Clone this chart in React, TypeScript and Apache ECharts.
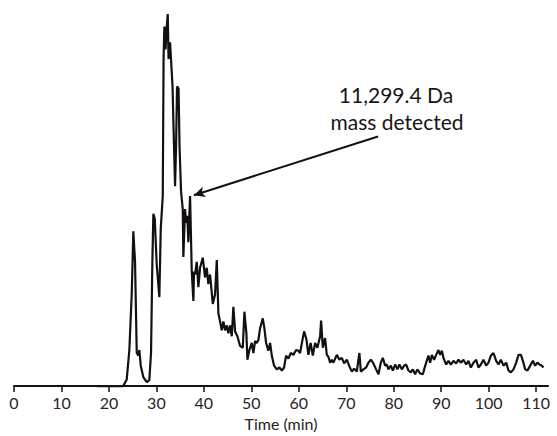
import React, { useEffect, useRef } from "react";
import * as echarts from "echarts";

// Retention time (min)
const timeMin: number[] = [
  17.5, 23.0, 23.75, 24.3, 24.8, 25.14, 25.5, 25.86, 26.2, 26.41, 26.7, 27.25, 27.97, 28.51, 28.87, 29.15,
  29.36, 29.65, 30.07, 30.62, 30.92, 31.34, 31.51, 31.68, 31.93, 32.14, 32.39, 32.56, 32.88, 33.19, 33.4,
  33.61, 33.93, 34.14, 34.35, 34.67, 34.88, 35.19, 35.55, 35.68, 36.04, 36.25, 36.52, 36.73, 37.09, 37.45,
  37.79, 37.93, 38.15, 38.5, 38.84, 39.2, 39.77, 40.25, 40.61, 40.95, 41.31, 41.88, 42.36, 42.72, 43.06,
  43.41, 43.77, 44.11, 44.47, 44.83, 45.16, 45.52, 45.88, 46.22, 46.58, 47.06, 47.63, 48.2, 48.54, 48.96,
  49.17, 49.59, 50.09, 50.43, 50.79, 51.15, 51.49, 51.84, 52.41, 52.75, 53.11, 53.59, 53.95, 54.31, 54.79,
  55.36, 55.91, 56.42, 56.9, 57.32, 57.81, 58.31, 58.86, 59.43, 59.92, 60.27, 60.84, 61.12, 61.6, 62.02,
  62.49, 62.95, 63.43, 63.92, 64.49, 64.7, 65.06, 65.54, 65.9, 66.24, 66.6, 66.95, 67.29, 68.01, 68.56,
  69.06, 69.55, 70.12, 70.66, 71.17, 71.65, 72.22, 72.56, 72.77, 73.07, 73.61, 74.18, 74.67, 75.17, 75.72,
  76.29, 76.78, 77.28, 77.7, 78.19, 78.55, 78.88, 79.39, 79.81, 80.3, 80.78, 81.2, 81.71, 82.19, 82.61,
  83.1, 83.6, 84.02, 84.51, 84.99, 85.56, 86.13, 86.41, 86.83, 87.31, 87.67, 88.03, 88.51, 88.94, 89.42,
  89.78, 90.14, 90.47, 91.04, 91.53, 92.03, 92.58, 93.15, 93.64, 94.14, 94.69, 95.26, 95.74, 96.25, 96.8,
  97.37, 97.85, 98.36, 98.9, 99.47, 99.96, 100.46, 101.01, 101.58, 102.07, 102.57, 103.12, 103.69, 104.17,
  104.68, 105.23, 105.8, 106.28, 106.79, 107.21, 107.69, 108.18, 108.75, 109.32, 109.8, 110.28, 110.71,
  111.21, 111.55,
];

// Relative intensity (%)
const intensity: number[] = [
  0, 0, 1.8, 9.7, 24.7, 41.6, 33.4, 8.9, 8.2, 9.7, 5.5, 2.4, 1.1, 1.6, 8.9, 33.4,
  46.3, 45.0, 32.6, 23.9, 42.4, 51.1, 87.9, 96.6, 90.5, 95.8, 100, 87.9, 92.4, 85.3, 80.5,
  69.5, 53.7, 64.2, 80.5, 80.0, 64.2, 52.4, 47.6, 34.7, 47.6, 43.9, 45.8, 38.7, 51.1, 30.8,
  22.9, 30.8, 30.0, 33.4, 26.6, 31.8, 34.5, 29.2, 31.8, 27.4, 30.0, 22.1, 24.7, 33.9, 19.5,
  17.4, 15.0, 17.4, 15.0, 16.3, 14.2, 16.3, 13.4, 21.3, 14.7, 13.4, 10.8, 10.3, 20.0, 14.2,
  7.1, 9.7, 11.6, 8.9, 12.1, 11.6, 12.4, 15.5, 18.2, 15.5, 11.6, 9.5, 11.6, 8.2, 5.5,
  4.5, 5.0, 4.2, 5.0, 8.2, 7.4, 8.9, 8.4, 9.7, 9.5, 8.9, 12.9, 14.7, 12.6, 8.4,
  11.6, 8.2, 11.6, 10.3, 13.4, 17.6, 10.3, 12.9, 8.4, 7.9, 6.3, 7.1, 6.3, 8.4, 7.1,
  7.6, 6.1, 7.1, 5.3, 3.9, 4.7, 3.9, 7.1, 8.9, 3.9, 4.5, 5.0, 6.3, 7.1, 6.1,
  4.5, 3.2, 6.3, 7.6, 5.5, 5.8, 4.5, 5.5, 4.2, 5.8, 4.5, 5.8, 4.5, 5.5, 5.8,
  4.2, 3.7, 4.5, 3.2, 4.5, 3.4, 3.2, 4.5, 6.3, 8.2, 6.3, 8.4, 7.1, 8.4, 9.7,
  8.4, 9.5, 7.6, 5.8, 6.8, 5.8, 6.8, 6.1, 7.1, 6.3, 7.1, 5.8, 6.8, 5.0, 6.3,
  7.1, 5.0, 5.8, 7.1, 5.5, 6.3, 8.2, 8.9, 6.8, 5.8, 7.1, 5.5, 6.3, 4.2,
  3.7, 4.5, 6.3, 8.4, 8.4, 6.8, 4.5, 4.2, 5.5, 6.8, 5.5, 6.3, 5.8,
  5.5, 5.0,
];

const tickValues: number[] = [0, 10, 20, 30, 40, 50, 60, 70, 80, 90, 100, 110];

const annotationLines: string[] = ["11,299.4 Da", "mass detected"];
// arrow: from the note [time, intensity] to the annotated peak [time, intensity]
const arrowFrom: number[] = [76.7, 67.1];
const arrowTo: number[] = [37.9, 51.3];

export default function App() {
  const ref = useRef<HTMLDivElement>(null);

  useEffect(() => {
    if (!ref.current) return;
    const chart = echarts.init(ref.current, null, { renderer: "svg" });
    const data = timeMin.map((t, i) => [t, intensity[i]]);
    const font = "Lato, 'Open Sans', sans-serif";
    chart.setOption({
      animation: false,
      backgroundColor: "#ffffff",
      grid: { left: 14, right: 9, top: 14, bottom: 39, containLabel: false },
      xAxis: {
        type: "value",
        min: 0,
        max: 112.5,
        name: "Time (min)",
        nameLocation: "middle",
        nameGap: 24,
        nameTextStyle: { fontFamily: font, fontSize: 16, color: "#2a2222" },
        axisLine: { show: true, lineStyle: { color: "#111", width: 2 } },
        axisTick: {
          show: true,
          customValues: tickValues,
          length: 6,
          lineStyle: { color: "#111", width: 1.5 },
        },
        axisLabel: {
          customValues: tickValues,
          fontFamily: font,
          fontSize: 16,
          color: "#2a2222",
          margin: 5,
        },
        splitLine: { show: false },
      },
      yAxis: {
        type: "value",
        min: -0.8,
        max: 100,
        show: false,
        splitLine: { show: false },
      },
      series: [
        {
          type: "line",
          data,
          showSymbol: false,
          symbol: "none",
          lineStyle: { color: "#141010", width: 2.2 },
          z: 3,
          markLine: {
            silent: true,
            symbol: ["none", "arrow"],
            symbolSize: [8, 11],
            lineStyle: { color: "#141010", width: 2, type: "solid" },
            label: { show: false },
            data: [[{ coord: arrowFrom }, { coord: arrowTo }]],
          },
        },
      ],
      graphic: [
        {
          type: "text",
          x: 396,
          y: 94,
          style: {
            text: annotationLines[0],
            font: `21px ${font}`,
            fill: "#1a1414",
            align: "center",
            verticalAlign: "middle",
          },
        },
        {
          type: "text",
          x: 397,
          y: 121,
          style: {
            text: annotationLines[1],
            font: `21px ${font}`,
            fill: "#1a1414",
            align: "center",
            verticalAlign: "middle",
          },
        },
      ],
    });
    return () => chart.dispose();
  }, []);

  return (
    <div
      ref={ref}
      style={{ position: "fixed", left: 0, top: 0, width: 557, height: 436 }}
    />
  );
}
